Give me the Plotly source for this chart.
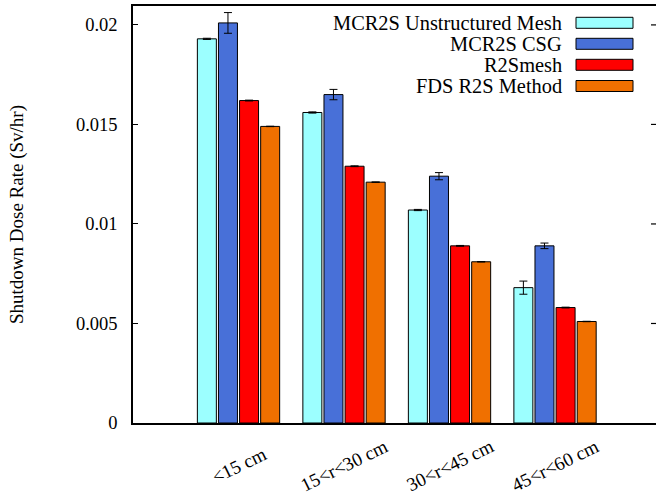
import plotly.graph_objects as go

categories = ["<15 cm", "15<r<30 cm", "30<r<45 cm", "45<r<60 cm"]
series_names = ["MCR2S Unstructured Mesh", "MCR2S CSG", "R2Smesh", "FDS R2S Method"]
unstructured = [0.0193, 0.0156, 0.0107, 0.0068]
unstructured_err = [0.00003, 0.00003, 0.00003, 0.00033]
csg = [0.0201, 0.0165, 0.0124, 0.0089]
csg_err = [0.00052, 0.00026, 0.00018, 0.00014]
r2smesh = [0.0162, 0.0129, 0.0089, 0.0058]
r2smesh_err = [0.00002, 0.00002, 0.00002, 0.00002]
fds = [0.0149, 0.0121, 0.0081, 0.0051]
fds_err = [0.00001, 0.00001, 0.00001, 0.00001]
y_tickvals = [0, 0.005, 0.01, 0.015, 0.02]
y_ticktext = ["0", "0.005", "0.01", "0.015", "0.02"]

colors = ["#9CFFFF", "#4870D8", "#FF0000", "#F07000"]
values = [unstructured, csg, r2smesh, fds]
errors = [unstructured_err, csg_err, r2smesh_err, fds_err]

FONT = "Liberation Serif, Times New Roman, serif"

fig = go.Figure()
for name, vals, errs, col in zip(series_names, values, errors, colors):
    fig.add_trace(go.Bar(
        x=categories, y=vals, name=name, showlegend=False,
        marker=dict(color=col, line=dict(color="black", width=1)),
        error_y=dict(type="data", array=errs, visible=True, color="black",
                     thickness=1, width=4),
    ))

W, H = 656, 494
L, R, T, B = 133, 0, 6, 71
pw, ph = W - L - R, H - T - B

def px_x(p):
    return (p - L) / pw

def px_y(q):
    return (H - B - q) / ph

ymax = 0.02095

fig.update_layout(
    width=W, height=H,
    margin=dict(l=L, r=R, t=T, b=B, pad=0),
    paper_bgcolor="white", plot_bgcolor="white",
    barmode="group", bargap=0.2, bargroupgap=0.1,
    font=dict(family=FONT, color="black", size=18),
    xaxis=dict(
        range=[-1, 3.957], showticklabels=False, ticks="",
        showline=True, linecolor="black", linewidth=1.5, mirror=True,
        showgrid=False, zeroline=False,
    ),
    yaxis=dict(
        range=[0, ymax], tickvals=y_tickvals, ticktext=y_ticktext,
        ticks="inside", ticklen=5, tickcolor="black", tickwidth=1,
        showline=True, linecolor="black", linewidth=1.5,
        showgrid=False, zeroline=False,
        tickfont=dict(size=18.5, family=FONT),
        ticklabelstandoff=10,
        title=dict(text="Shutdown Dose Rate (Sv/hr)", font=dict(size=19, family=FONT),
                   standoff=47),
    ),
)

# right-hand tick marks (the right border itself lies just outside the picture)
for v in y_tickvals[1:]:
    fig.add_shape(type="line", xref="paper", yref="y",
                  x0=px_x(651), x1=px_x(656.5), y0=v, y1=v,
                  line=dict(color="black", width=1.2))

# category labels, rotated and centred under each group
for c in categories:
    fig.add_annotation(x=c, y=px_y(465), xref="x", yref="paper", text=c,
                       showarrow=False, textangle=-26, xanchor="center",
                       yanchor="middle", font=dict(size=19, family=FONT))

# legend: text right-aligned with swatch to its right
row_centers = [22.8, 43.8, 64.8, 86.0]
for name, col, yc in zip(series_names, colors, row_centers):
    fig.add_shape(type="rect", xref="paper", yref="paper",
                  x0=px_x(576), x1=px_x(633), y0=px_y(yc + 5.5), y1=px_y(yc - 5.5),
                  fillcolor=col, line=dict(color="black", width=1))
    fig.add_annotation(x=px_x(564), y=px_y(yc), xref="paper", yref="paper",
                       text=name, showarrow=False, xanchor="right", yanchor="middle",
                       font=dict(size=20.4, family=FONT))

fig.write_html("out.html", config={"displayModeBar": False},
               post_script="document.body.style.margin='0';document.body.style.overflow='hidden';")
